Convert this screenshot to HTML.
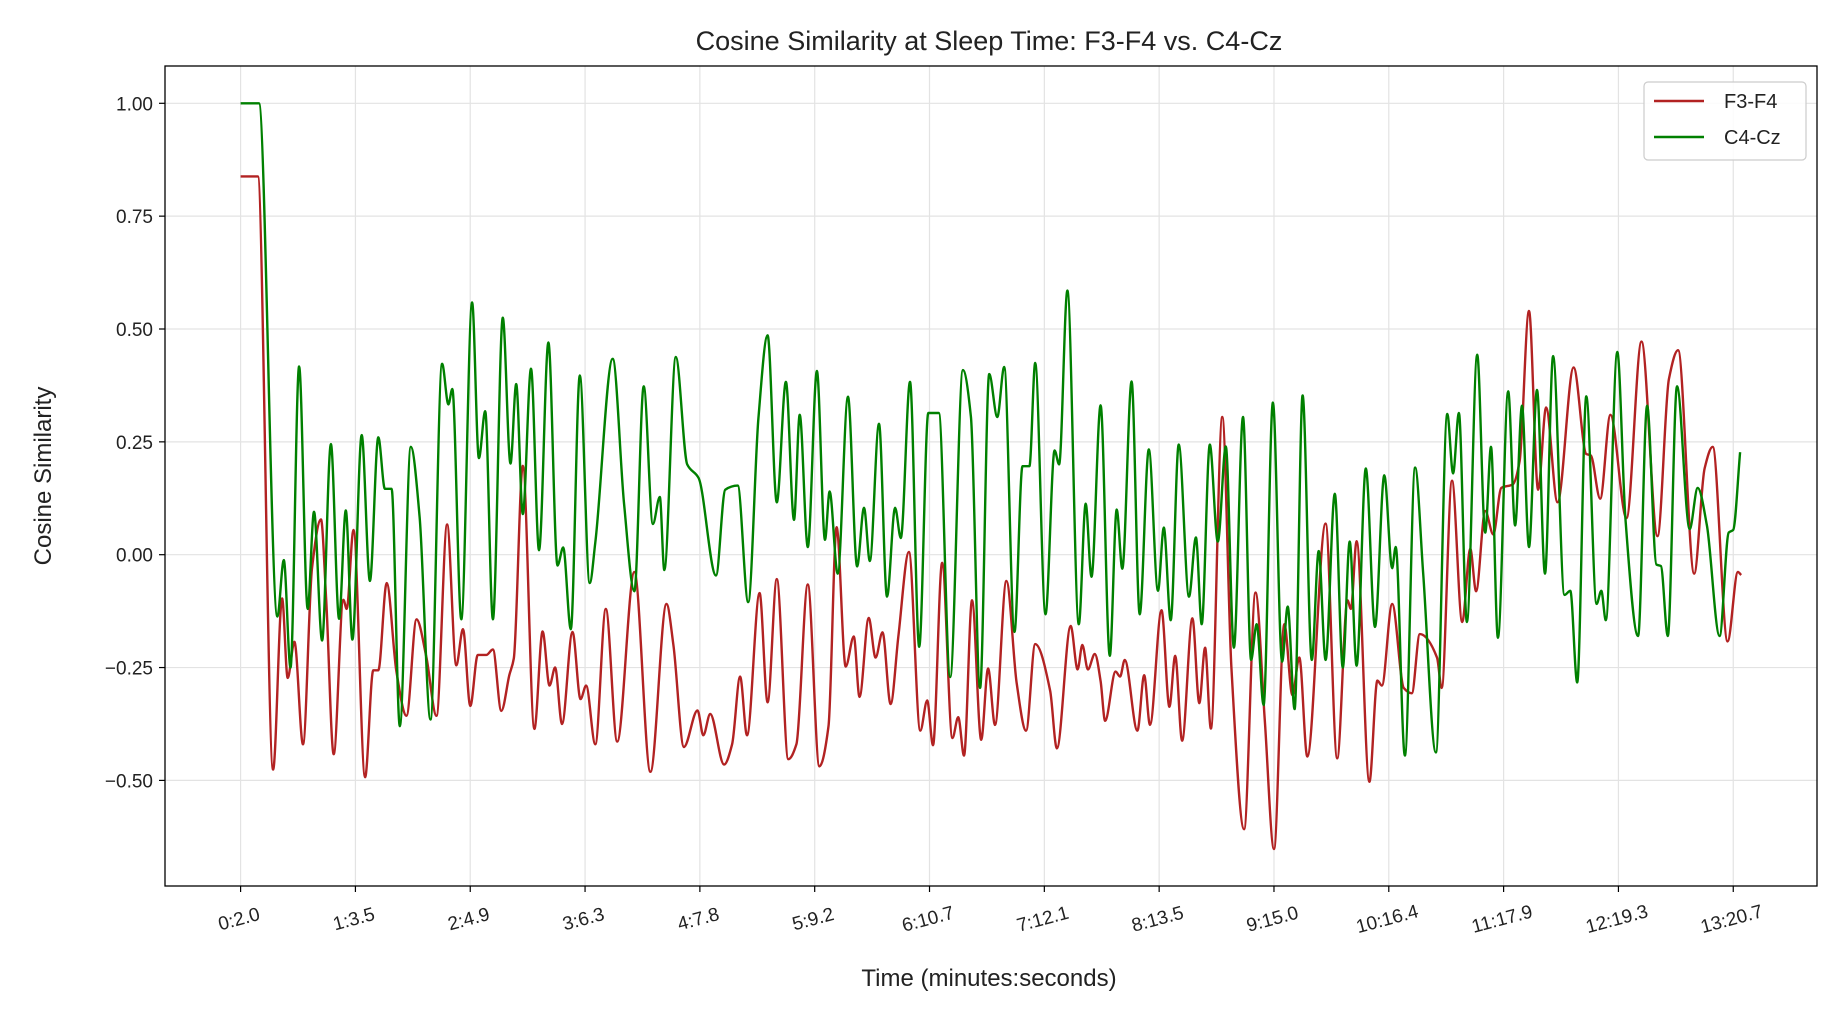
<!DOCTYPE html>
<html><head><meta charset="utf-8"><style>
html,body{margin:0;padding:0;background:#fff;}
svg{display:block;font-family:"Liberation Sans","DejaVu Sans",sans-serif;}
</style></head><body>
<svg id="chart" width="1840" height="1018" viewBox="0 0 1840 1018">
<rect x="0" y="0" width="1840" height="1018" fill="#fff"/>
<g id="grid"></g>
<g id="series"></g>
<rect x="165" y="66" width="1652" height="820" fill="none" stroke="#000" stroke-width="1.3"/>
<g id="axes"></g>
<text x="989" y="50" text-anchor="middle" font-size="27" fill="#222">Cosine Similarity at Sleep Time: F3-F4 vs. C4-Cz</text>
<text x="989" y="986" text-anchor="middle" font-size="24" fill="#222">Time (minutes:seconds)</text>
<text transform="translate(51,476) rotate(-90)" text-anchor="middle" font-size="24" fill="#222">Cosine Similarity</text>
<g>
<rect x="1644" y="82" width="162" height="78" rx="4" fill="#fff" fill-opacity="0.85" stroke="#ccc" stroke-width="1.2"/>
<g>
<line x1="1654" y1="101" x2="1704" y2="101" stroke="#b22222" stroke-width="2.4"/>
<text x="1724" y="108" font-size="20" fill="#222">F3-F4</text></g>
<g>
<line x1="1654" y1="137" x2="1704" y2="137" stroke="#008000" stroke-width="2.4"/>
<text x="1724" y="144" font-size="20" fill="#222">C4-Cz</text></g>
</g>
</svg>
<script>
const xTickLabels = ["0:2.0","1:3.5","2:4.9","3:6.3","4:7.8","5:9.2","6:10.7","7:12.1","8:13.5","9:15.0","10:16.4","11:17.9","12:19.3","13:20.7"];
const xTickValues = [2,63.44,124.88,186.32,247.76,309.2,370.64,432.08,493.52,554.96,616.4,677.84,739.28,800.72];
const yTickValues = [1.0,0.75,0.5,0.25,0,-0.25,-0.5];
const yTickLabels = ["1.00","0.75","0.50","0.25","0.00","\u22120.25","\u22120.50"];

const f3f4Time = [2,11.2,19.4,24.2,27.2,30.8,35.4,40.2,45,47.8,51.8,57,58.8,62.4,68.6,73,75.7,80.2,85.4,90.8,96.1,101.4,106.8,112.5,117.4,121,124.9,128.9,133.5,137,141.5,145.8,148.2,153,159.2,163.6,167.3,170.3,174,179.6,183.9,186.9,191.8,197.4,203.5,212.7,221.3,229.9,233.6,239.2,246.5,249.6,253.3,260.7,265,269.3,273,279.7,284,288.9,295.1,299.4,305.5,311.7,316.6,320.9,325.8,330.1,333.2,338.1,341.8,345.5,349.8,354,359.6,365.7,369.4,372.5,377.4,382.9,386,389.1,393.4,398.3,402,405.7,411.8,417.3,422.3,427.2,435.2,438.8,446.2,449.9,452.4,455.4,459.1,462.2,464.6,470.2,472.6,475.1,481.9,485.5,488.6,494.8,499,502.1,505.8,511.3,515,518.1,521.2,527.3,532.2,539,545.1,550,555,560.5,564.8,568.5,572.8,582.6,588.8,594.3,596.1,599.2,606,610.3,612.7,618.2,624.4,628.7,633,642.2,644.7,650.2,655.7,660,663.1,668,672.3,676.6,682.8,686.4,691.4,696.3,700.6,706.7,715.3,722.1,724.5,729.5,735,743.6,751.6,760.2,766.3,771.2,779.8,785.4,789.7,797.7,803.2,805];
const f3f4Value = [0.838,0.838,-0.476,-0.097,-0.273,-0.193,-0.42,-0.03,0.078,-0.10,-0.442,-0.10,-0.12,0.055,-0.493,-0.256,-0.256,-0.063,-0.26,-0.357,-0.143,-0.227,-0.357,0.067,-0.245,-0.165,-0.335,-0.222,-0.222,-0.21,-0.346,-0.267,-0.23,0.197,-0.386,-0.17,-0.29,-0.25,-0.375,-0.171,-0.32,-0.29,-0.42,-0.12,-0.414,-0.038,-0.481,-0.109,-0.2,-0.426,-0.345,-0.4,-0.353,-0.465,-0.42,-0.27,-0.4,-0.085,-0.327,-0.054,-0.453,-0.42,-0.066,-0.469,-0.38,0.061,-0.248,-0.181,-0.315,-0.14,-0.228,-0.172,-0.331,-0.18,0.006,-0.39,-0.323,-0.422,-0.018,-0.406,-0.36,-0.445,-0.101,-0.41,-0.252,-0.377,-0.058,-0.285,-0.39,-0.198,-0.302,-0.429,-0.158,-0.254,-0.2,-0.254,-0.22,-0.28,-0.368,-0.259,-0.27,-0.233,-0.39,-0.267,-0.377,-0.123,-0.337,-0.224,-0.412,-0.141,-0.329,-0.206,-0.385,0.305,-0.25,-0.608,-0.084,-0.364,-0.652,-0.154,-0.311,-0.228,-0.447,0.069,-0.451,-0.101,-0.12,0.03,-0.503,-0.279,-0.29,-0.109,-0.295,-0.307,-0.176,-0.228,-0.295,0.164,-0.149,0.013,-0.081,0.097,0.045,0.148,0.156,0.207,0.54,0.144,0.326,0.116,0.415,0.223,0.22,0.124,0.31,0.081,0.472,0.041,0.389,0.453,-0.042,0.191,0.239,-0.192,-0.038,-0.045];

const c4czTime = [2,11.8,21.7,25.1,28.7,33.3,37.9,41.3,45.6,50.3,54.7,58.3,61.8,66.8,71.2,75.7,79.2,82.8,87.2,93.1,97.8,103.6,109.8,113.2,115.3,120.1,125.9,129.5,132.9,137,142.3,146.4,149.5,153,157.4,161.7,166.7,171.6,174.6,178.7,183.5,188.8,191.8,201.1,207.2,212.7,217.7,222.6,226.3,228.7,234.9,241,247.1,256.4,261.3,268,273.6,279.1,284,288.9,293.8,298.1,301.2,305.5,310.4,314.7,317.2,321.5,327,331.9,335.6,338.7,343.6,347.9,352.2,355.3,360.2,365.1,370,375.6,381.7,388.5,392.8,397.7,402.6,406.9,410.6,416.1,420.4,424.1,427.2,432.7,437.6,440,444.4,450.5,454.2,457.3,462.2,467.1,470.8,473.8,478.8,483.1,488,492.9,496,499.7,504,509.5,513.2,516.3,520.6,524.9,529.2,533.5,538.4,542.7,545.7,549.4,554.4,559.3,562.3,566,570.3,575.2,578.9,582.6,587.5,591.8,595.5,599.2,604.1,609,614,618.2,620.1,625,630.5,634.8,641.6,647.7,650.8,653.9,658.2,663.7,668,671.1,674.8,680.3,684,687.7,691.4,695.7,700,704.3,710.4,713.5,717.2,722.1,727.6,730.1,732.5,738.7,743,749.8,754.6,759.6,762,765.7,770.6,777.4,781.7,786.6,793.4,798.3,800.7,804.4];
const c4czValue = [1.0,1.0,-0.137,-0.012,-0.25,0.417,-0.12,0.095,-0.19,0.245,-0.142,0.098,-0.188,0.265,-0.058,0.26,0.146,0.146,-0.38,0.239,0.084,-0.365,0.423,0.333,0.367,-0.143,0.559,0.214,0.318,-0.143,0.525,0.202,0.378,0.09,0.412,0.01,0.47,-0.024,0.016,-0.165,0.397,-0.063,0.027,0.434,0.112,-0.081,0.373,0.068,0.128,-0.034,0.438,0.2,0.17,-0.046,0.144,0.153,-0.105,0.302,0.486,0.116,0.383,0.077,0.31,0.017,0.407,0.033,0.14,-0.042,0.35,-0.026,0.104,-0.014,0.29,-0.093,0.104,0.037,0.383,-0.204,0.314,0.314,-0.271,0.409,0.306,-0.295,0.4,0.305,0.416,-0.171,0.196,0.196,0.425,-0.132,0.231,0.2,0.585,-0.154,0.113,-0.049,0.331,-0.224,0.1,-0.031,0.384,-0.132,0.233,-0.08,0.06,-0.145,0.244,-0.093,0.038,-0.154,0.244,0.029,0.24,-0.206,0.305,-0.233,-0.154,-0.333,0.337,-0.237,-0.115,-0.342,0.353,-0.233,0.008,-0.233,0.135,-0.25,0.029,-0.246,0.191,-0.16,0.176,-0.03,0.017,-0.445,0.193,-0.042,-0.438,0.312,0.18,0.314,-0.149,0.443,0.049,0.239,-0.184,0.362,0.065,0.33,0.017,0.365,-0.042,0.44,-0.089,-0.08,-0.283,0.351,-0.109,-0.08,-0.145,0.449,0.081,-0.18,0.33,-0.022,-0.025,-0.18,0.373,0.057,0.148,0.065,-0.18,0.049,0.055,0.227];

const NS = "http://www.w3.org/2000/svg";
const PL = 165, PR = 1817, PT = 66, PB = 886;
function xScale(t){ return 240.6 + (t - 2) * 1.8688; }
function yScale(v){ return 103.3 + (1 - v) * 451.4; }

const grid = document.getElementById('grid');
const axes = document.getElementById('axes');
function mk(tag, attrs, parent){
  const e = document.createElementNS(NS, tag);
  for (const k in attrs) e.setAttribute(k, attrs[k]);
  parent.appendChild(e); return e;
}
xTickValues.forEach((t, i) => {
  const x = xScale(t);
  const gl = mk('line', {x1:x, x2:x, y1:PT, y2:PB, stroke:'#e3e3e3', 'stroke-width':1.2}, grid);
  
  
  const tk = mk('line', {x1:x, x2:x, y1:PB, y2:PB+6, stroke:'#000', 'stroke-width':1.2}, axes);
  
  
  const lb = mk('text', {x:0, y:0, 'font-size':19, fill:'#222', 'text-anchor':'middle',
    transform:'translate(' + x + ',' + (PB + 39) + ') rotate(-15)'}, axes);
  lb.textContent = xTickLabels[i];
  
  
});
yTickValues.forEach((v, i) => {
  const y = yScale(v);
  const gl = mk('line', {x1:PL, x2:PR, y1:y, y2:y, stroke:'#e3e3e3', 'stroke-width':1.2}, grid);
  
  
  const tk = mk('line', {x1:PL-6, x2:PL, y1:y, y2:y, stroke:'#000', 'stroke-width':1.2}, axes);
  
  
  const lb = mk('text', {x:PL-12, y:y+7, 'font-size':19, fill:'#222', 'text-anchor':'end'}, axes);
  lb.textContent = yTickLabels[i];
  
  
});

function monotonePath(xs, ys){
  const n = xs.length;
  const d = [], m = new Array(n);
  for (let i = 0; i < n-1; i++) d.push((ys[i+1]-ys[i])/(xs[i+1]-xs[i]));
  m[0] = d[0]; m[n-1] = d[n-2];
  for (let i = 1; i < n-1; i++){
    if (d[i-1]*d[i] <= 0) m[i] = 0;
    else { const h0 = xs[i]-xs[i-1], h1 = xs[i+1]-xs[i];
      const w1 = 2*h1+h0, w2 = h1+2*h0;
      m[i] = (w1+w2)/(w1/d[i-1] + w2/d[i]); }
  }
  let p = 'M' + xs[0].toFixed(1) + ',' + ys[0].toFixed(1);
  for (let i = 0; i < n-1; i++){
    const h = (xs[i+1]-xs[i])/3;
    p += 'C' + (xs[i]+h).toFixed(1) + ',' + (ys[i]+m[i]*h).toFixed(1) + ' ' +
         (xs[i+1]-h).toFixed(1) + ',' + (ys[i+1]-m[i+1]*h).toFixed(1) + ' ' +
         xs[i+1].toFixed(1) + ',' + ys[i+1].toFixed(1);
  }
  return p;
}
const series = document.getElementById('series');
const defs = mk('defs', {}, series);
const cp = mk('clipPath', {id:'clip'}, defs);
mk('rect', {x:PL, y:PT, width:PR-PL, height:PB-PT}, cp);
function drawSeries(ts, vs, color, name){
  const p = mk('path', {d: monotonePath(ts.map(xScale), vs.map(yScale)), fill:'none', stroke:color,
    'stroke-width':2.4, 'stroke-linejoin':'round', 'clip-path':'url(#clip)'}, series);
  
  
}
drawSeries(f3f4Time, f3f4Value, '#b22222', 'f3-f4-line');
drawSeries(c4czTime, c4czValue, '#008000', 'c4-cz-line');
</script>
</body></html>
